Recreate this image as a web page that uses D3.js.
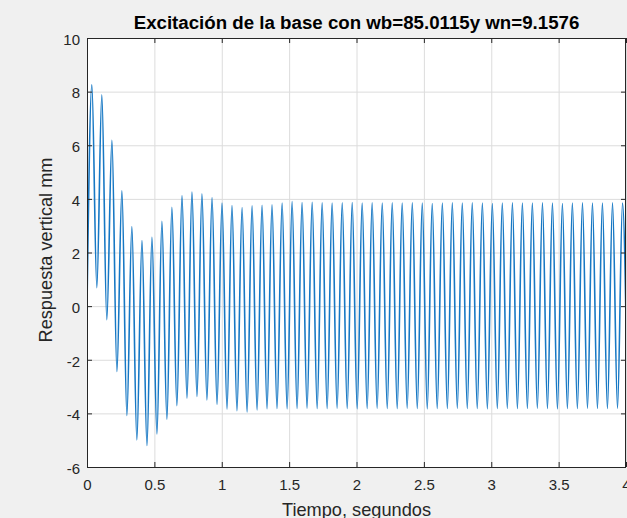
<!DOCTYPE html>
<html>
<head>
<meta charset="utf-8">
<script src="https://cdn.jsdelivr.net/npm/d3@7"></script>
<style>
  body { margin: 0; background: #f0f0f0; }
  svg { display: block; font-family: "Liberation Sans", Arial, sans-serif; }
  .tick text { fill: #262626; font-size: 15px; }
  .grid line { stroke: #dcdcdc; }
  .tickmarks line { stroke: #262626; }
</style>
</head>
<body>
<svg id="chart"></svg>
<script>
// axis ticks
const xTicks = [0, 0.5, 1, 1.5, 2, 2.5, 3, 3.5, 4];
const yTicks = [-6, -4, -2, 0, 2, 4, 6, 8, 10];

// response extrema (time in s, displacement in mm)
const startPoint = {t: 0, v: 0};

const peakTimes = [
  0.036, 0.110, 0.185, 0.259, 0.333, 0.408, 0.482, 0.556, 0.630, 0.705,
  0.779, 0.853, 0.928, 1.002, 1.076, 1.151, 1.225, 1.299, 1.373, 1.448,
  1.522, 1.596, 1.671, 1.745, 1.819, 1.894, 1.968, 2.042, 2.116, 2.191,
  2.265, 2.339, 2.414, 2.488, 2.562, 2.637, 2.711, 2.785, 2.859, 2.934,
  3.008, 3.082, 3.157, 3.231, 3.305, 3.380, 3.454, 3.528, 3.602, 3.677,
  3.751, 3.825, 3.900, 3.974
];
const peakValues = [
  8.25, 7.88, 6.18, 4.30, 2.97, 2.45, 2.57, 3.16, 3.69, 4.12,
  4.25, 4.19, 4.05, 3.84, 3.75, 3.68, 3.74, 3.76, 3.78, 3.84,
  3.90, 3.86, 3.87, 3.85, 3.84, 3.85, 3.86, 3.84, 3.85, 3.84,
  3.85, 3.84, 3.85, 3.84, 3.83, 3.84, 3.85, 3.84, 3.85, 3.84,
  3.83, 3.84, 3.85, 3.84, 3.84, 3.85, 3.84, 3.83, 3.84, 3.85,
  3.84, 3.84, 3.85, 3.84
];

const troughTimes = [
  0.073, 0.147, 0.222, 0.296, 0.370, 0.445, 0.519, 0.593, 0.667, 0.742,
  0.816, 0.890, 0.965, 1.039, 1.113, 1.188, 1.262, 1.336, 1.410, 1.485,
  1.559, 1.633, 1.708, 1.782, 1.856, 1.931, 2.005, 2.079, 2.153, 2.228,
  2.302, 2.376, 2.451, 2.525, 2.599, 2.674, 2.748, 2.822, 2.896, 2.971,
  3.045, 3.119, 3.194, 3.268, 3.342, 3.417, 3.491, 3.565, 3.639, 3.714,
  3.788, 3.862, 3.937, 4.011
];
const troughValues = [
  0.69, -0.51, -2.44, -4.08, -4.99, -5.20, -4.77, -4.22, -3.71, -3.43,
  -3.37, -3.50, -3.66, -3.84, -3.90, -3.95, -3.87, -3.83, -3.82, -3.83,
  -3.82, -3.81, -3.82, -3.82, -3.81, -3.82, -3.83, -3.82, -3.81, -3.82,
  -3.82, -3.81, -3.82, -3.83, -3.82, -3.82, -3.81, -3.82, -3.82, -3.83,
  -3.82, -3.81, -3.82, -3.82, -3.81, -3.82, -3.83, -3.82, -3.82, -3.81,
  -3.82, -3.82, -3.81, -3.82
];

const titleText = 'Excitación de la base con wb=85.0115y wn=9.1576';
const xLabel = 'Tiempo, segundos';
const yLabel = 'Respuesta vertical mm';

const config = {
  containerWidth: 627,
  containerHeight: 518,
  margin: {top: 38, right: 1, bottom: 51, left: 87}
};

// build the series: start point, then peaks and troughs in turn
let data = [startPoint];
peakTimes.forEach((t, i) => {
  data.push({t: t, v: peakValues[i]});
  data.push({t: troughTimes[i], v: troughValues[i]});
});

const width = config.containerWidth - config.margin.left - config.margin.right;
const height = config.containerHeight - config.margin.top - config.margin.bottom;

const svg = d3.select('#chart')
    .attr('width', config.containerWidth)
    .attr('height', config.containerHeight);

const chart = svg.append('g')
    .attr('transform', `translate(${config.margin.left},${config.margin.top})`);

const xScale = d3.scaleLinear().domain([0, 4]).range([0, width]);
const yScale = d3.scaleLinear().domain([-6, 10]).range([height, 0]);

// plot background
chart.append('rect')
    .attr('width', width)
    .attr('height', height)
    .attr('fill', '#fff');

// gridlines
chart.append('g')
    .attr('class', 'grid')
    .attr('transform', `translate(0,${height})`)
    .call(d3.axisBottom(xScale).tickValues(xTicks).tickSize(-height).tickFormat(''))
    .call(g => g.select('.domain').remove());

chart.append('g')
    .attr('class', 'grid')
    .call(d3.axisLeft(yScale).tickValues(yTicks).tickSize(-width).tickFormat(''))
    .call(g => g.select('.domain').remove());

// response line
chart.append('clipPath')
    .attr('id', 'clip')
  .append('rect')
    .attr('width', width)
    .attr('height', height);

const line = d3.line()
    .x(d => xScale(d.t))
    .y(d => yScale(d.v))
    .curve(d3.curveMonotoneX);

chart.append('path')
    .datum(data)
    .attr('clip-path', 'url(#clip)')
    .attr('fill', 'none')
    .attr('stroke', '#1778c4')
    .attr('stroke-width', 1.6)
    .attr('stroke-linejoin', 'round')
    .attr('d', line);

// axes with inward ticks on all four sides
const fmt = d => String(d);

chart.append('g')
    .attr('class', 'tickmarks')
    .attr('transform', `translate(0,${height})`)
    .call(d3.axisBottom(xScale).tickValues(xTicks).tickSize(-5).tickPadding(12).tickFormat(fmt))
    .call(g => g.select('.domain').remove());

chart.append('g')
    .attr('class', 'tickmarks')
    .call(d3.axisTop(xScale).tickValues(xTicks).tickSize(-5).tickFormat(''))
    .call(g => g.select('.domain').remove());

chart.append('g')
    .attr('class', 'tickmarks')
    .call(d3.axisLeft(yScale).tickValues(yTicks).tickSize(-5).tickPadding(7).tickFormat(fmt))
    .call(g => g.select('.domain').remove())
    .call(g => g.selectAll('text').attr('dy', '0.42em'));

chart.append('g')
    .attr('class', 'tickmarks')
    .attr('transform', `translate(${width},0)`)
    .call(d3.axisRight(yScale).tickValues(yTicks).tickSize(-5).tickFormat(''))
    .call(g => g.select('.domain').remove());

// axes box
chart.append('rect')
    .attr('x', 0.5)
    .attr('y', 0.5)
    .attr('width', width - 1)
    .attr('height', height)
    .attr('fill', 'none')
    .attr('stroke', '#262626')
    .attr('stroke-width', 1);

// title and axis titles
svg.append('text')
    .attr('x', config.margin.left + width / 2)
    .attr('y', 29)
    .attr('text-anchor', 'middle')
    .style('font-size', '18.7px')
    .style('font-weight', 'bold')
    .style('fill', '#000')
    .text(titleText);

svg.append('text')
    .attr('x', config.margin.left + width / 2)
    .attr('y', 516)
    .attr('text-anchor', 'middle')
    .style('font-size', '18.2px')
    .style('fill', '#262626')
    .text(xLabel);

svg.append('text')
    .attr('transform', 'translate(52,250) rotate(-90)')
    .attr('text-anchor', 'middle')
    .style('font-size', '18.2px')
    .style('fill', '#262626')
    .text(yLabel);
</script>
</body>
</html>
